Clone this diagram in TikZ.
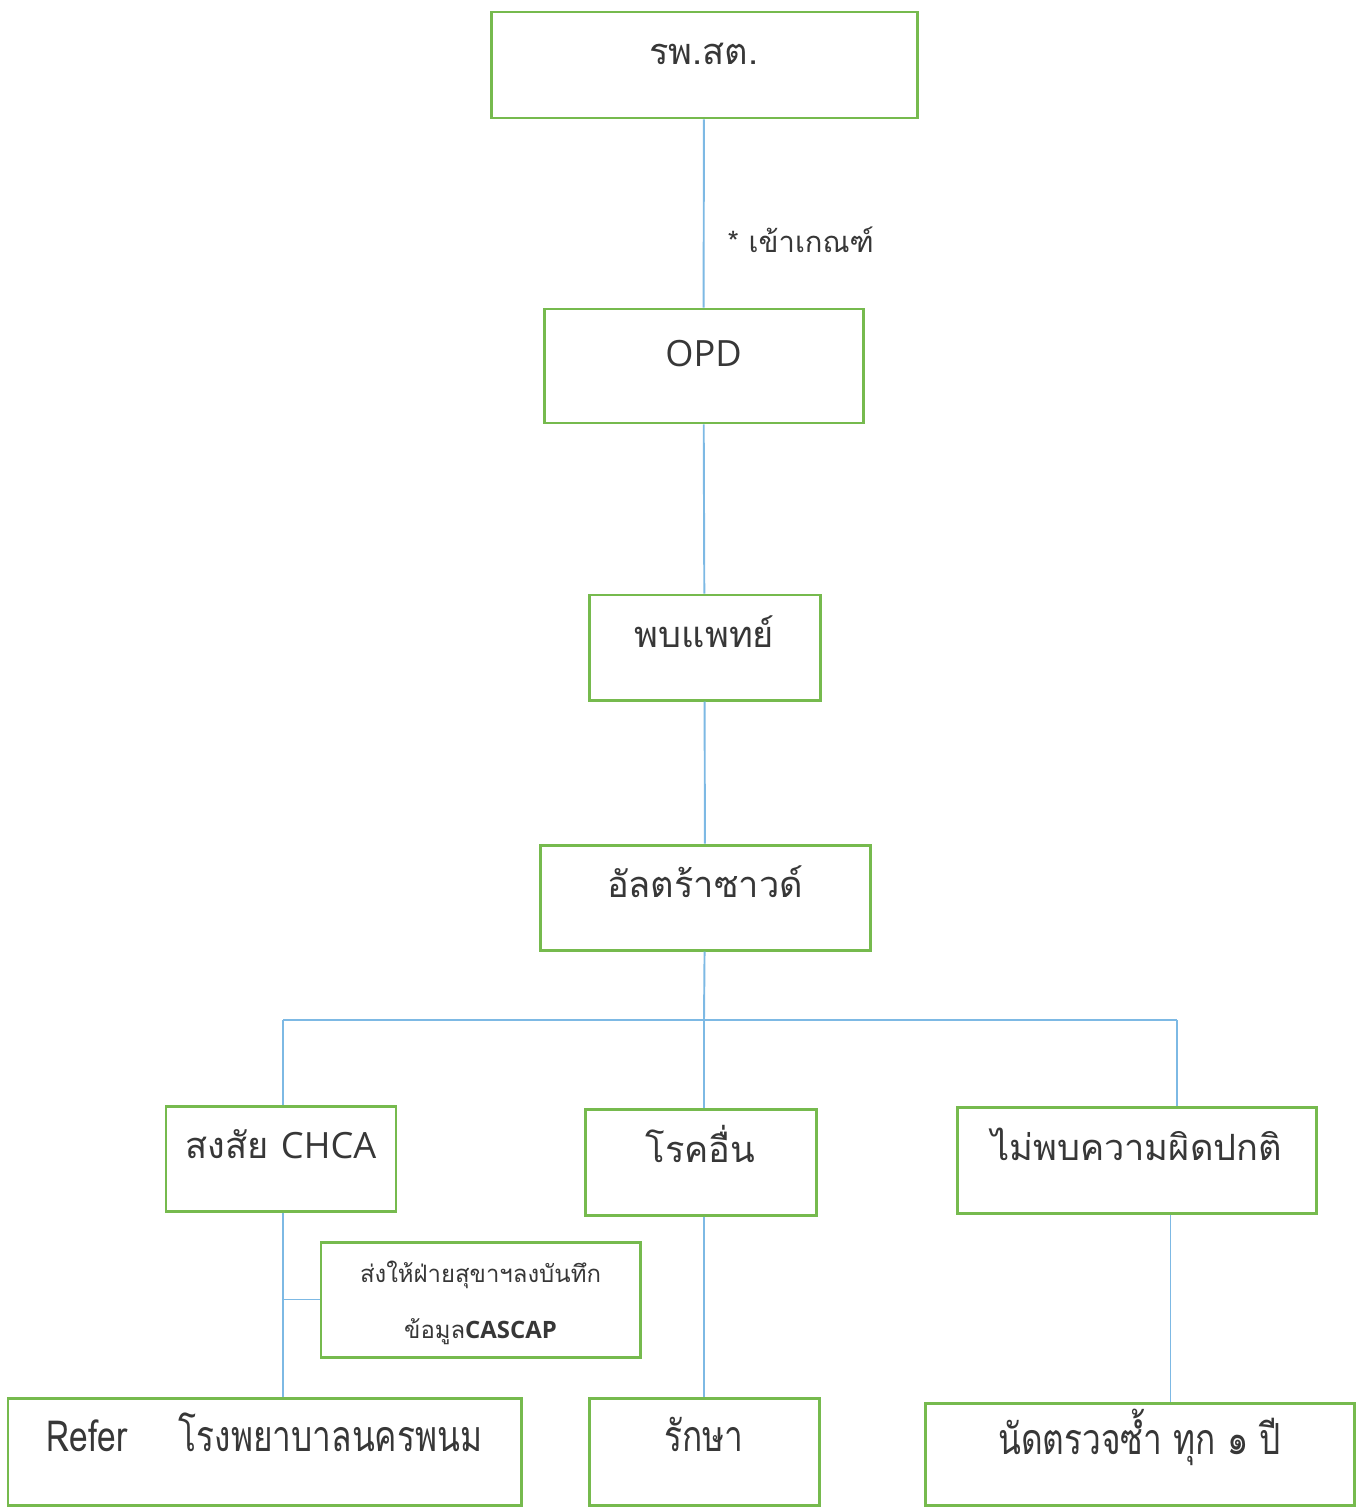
\documentclass[tikz,border=0pt]{standalone}
\usepackage{fontspec}
\usepackage{xcolor}
\newfontfamily\thaifont[Script=Thai]{Loma}
\newfontfamily\thaicond[Script=Thai,FakeStretch=0.78]{Loma}
\newfontfamily\latinfont{Open Sans}
\definecolor{boxgreen}{RGB}{118,186,78}
\definecolor{linkblue}{RGB}{125,185,228}
\definecolor{inkgray}{RGB}{55,55,55}

\begin{document}
\begin{tikzpicture}
[
greenbox/.style={rectangle, draw=boxgreen, line width=0.85pt, text=inkgray, inner sep=0pt,
      font=\thaifont\fontsize{10.3}{13}\selectfont, text height=7pt, text depth=7pt},
condbox/.style={greenbox, font=\thaicond\fontsize{12.2}{14}\selectfont},
notebox/.style={rectangle, draw=boxgreen, line width=0.85pt, text=inkgray, align=center,
      font=\thaifont\fontsize{6.8}{16}\selectfont},
link/.style={draw=linkblue, line width=0.55pt},
labeltext/.style={text=inkgray, font=\thaifont\fontsize{8.3}{10}\selectfont, inner sep=0pt, xshift=6.5pt}
]
\useasboundingbox (0,0) rectangle (13.66,-15.07);

%level 0
\node at (7.04,-0.65) [greenbox, minimum width=4.26cm, minimum height=1.06cm] (rpst) {รพ.สต.};
%level 1
\node at (7.035,-3.66) [greenbox, minimum width=3.19cm, minimum height=1.14cm] (opd) {\latinfont OPD};
%level 2
\node at (7.045,-6.475) [greenbox, minimum width=2.31cm, minimum height=1.05cm] (doctor) {พบแพทย์};
%level 3
\node at (7.05,-8.975) [greenbox, minimum width=3.30cm, minimum height=1.05cm] (ultra) {อัลตร้าซาวด์};

%level 4
\node at (2.81,-11.585) [greenbox, minimum width=2.30cm, minimum height=1.05cm] (chca) {สงสัย {\latinfont CHCA}};
\node at (7.005,-11.62) [greenbox, minimum width=2.31cm, minimum height=1.06cm] (other) {โรคอื่น};
\node at (11.365,-11.60) [greenbox, minimum width=3.59cm, minimum height=1.06cm] (normal) {ไม่พบความผิดปกติ};

%note
\node at (4.805,-12.995) [notebox, minimum width=3.19cm, minimum height=1.15cm, text depth=-2pt] (record)
      {ส่งให้ฝ่ายสุขาฯลงบันทึก\\ข้อมูล{\latinfont\bfseries CASCAP}};

%level 5
\node at (2.645,-14.515) [condbox, minimum width=5.13cm, minimum height=1.07cm] (refer)
      {Refer\hspace{1.2em}โรงพยาบาลนครพนม};
\node at (7.04,-14.515) [condbox, minimum width=2.30cm, minimum height=1.07cm] (treat) {รักษา};
\node at (11.395,-14.54) [condbox, minimum width=4.29cm, minimum height=1.02cm] (follow) {นัดตรวจซ้ำ ทุก ๑ ปี};

%links
\draw[link] (rpst) -- node[pos=0.64, right, labeltext] (crit) {* เข้าเกณฑ์} (opd);
\draw[link] (opd) -- (doctor);
\draw[link] (doctor) -- (ultra);

\coordinate (split) at (7.04,-10.20);
\coordinate (lsplit) at (2.83,-10.20);
\coordinate (rsplit) at (11.77,-10.20);
\draw[link] (ultra) -- (split);
\draw[link] (lsplit) -- (rsplit);
\draw[link] (lsplit) -- (lsplit |- chca.north);
\draw[link] (split) -- (split |- other.north);
\draw[link] (rsplit) -- (rsplit |- normal.north);

\draw[link] (chca.south -| lsplit) -- (lsplit |- refer.north);
\draw[link] (record.west) -- (record.west -| lsplit);
\draw[link] (other.south -| split) -- (split |- treat.north);
\draw[link] ([xshift=0.34cm]normal.south) -- ([xshift=0.34cm]normal.south |- follow.north);

\end{tikzpicture}
\end{document}
